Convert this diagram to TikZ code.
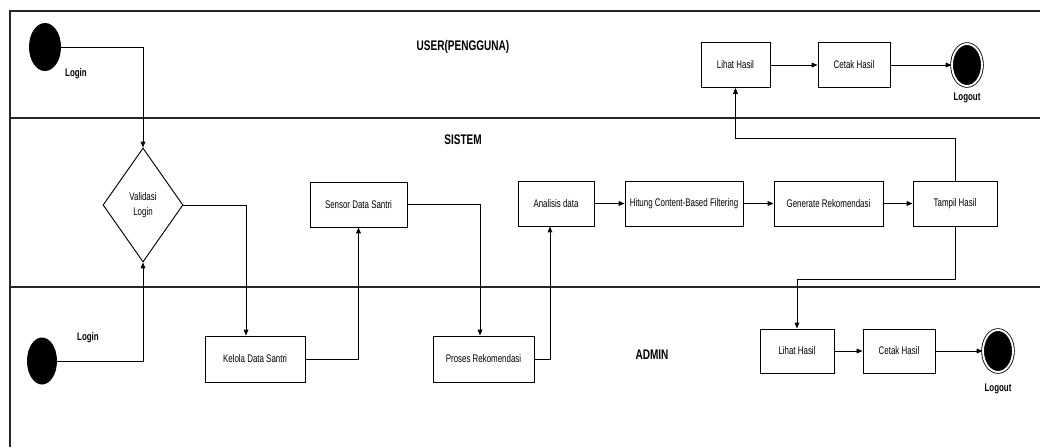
\documentclass[tikz,border=0pt]{standalone}
\usepackage{fontspec}
\setmainfont{Liberation Sans}[FakeStretch=0.72]
\usetikzlibrary{arrows.meta, calc, positioning, shapes.geometric}

\begin{document}
\begin{tikzpicture}[x=0.03cm, y=-0.03cm,
	lane/.style={line width=1.1pt, draw=black!85},
	act/.style={draw, line width=0.8pt, rectangle, inner sep=0pt, minimum height={45*0.03cm}, font=\fontsize{9.4}{11}\selectfont},
	cond/.style={draw, line width=0.8pt, diamond, inner sep=0pt, align=center, minimum width={80*0.03cm}, minimum height={114*0.03cm}, font=\fontsize{9.4}{13}\selectfont},
	startnode/.style={ellipse, fill=black, inner sep=0pt},
	endnode/.style={ellipse, fill=black, draw=black, double=white, double distance=1.6pt, line width=0.7pt, inner sep=0pt, minimum width={30*0.03cm}, minimum height={42*0.03cm}},
	title/.style={font=\bfseries\fontsize{11.9}{14}\selectfont},
	tag/.style={font=\bfseries\fontsize{9.4}{11}\selectfont},
	flow/.style={line width=0.8pt, -{Triangle[length=5pt, width=4pt]}}
]
	\useasboundingbox (0, 0) rectangle (1040, 447);
	
	% swimlanes
	\draw[lane] (10, 447) -- (10, 11) -- (1040, 11);
	\draw[lane] (10, 118) -- (1040, 118);
	\draw[lane] (10, 287) -- (1040, 287);
	
	\node[title] (userlane) at (463, 47) {USER(PENGGUNA)};
	\node[title] (sistemlane) at (463, 140) {SISTEM};
	\node[title] (adminlane) at (652, 355) {ADMIN};
	
	% user
	\node[startnode, minimum width={32*0.03cm}, minimum height={48*0.03cm}] (startU) at (45, 47) {};
	\node[tag] (loginU) at (76, 74) {Login};
	\node[act, minimum width={69*0.03cm}] (lihatU) at (735.5, 65) {Lihat Hasil};
	\node[act, minimum width={72*0.03cm}] (cetakU) at (854, 65) {Cetak Hasil};
	\node[endnode] (logoutU) at (967, 65) {};
	\node[tag] (logoutUtxt) at (967, 98) {Logout};
	
	% sistem
	\node[cond] (validasi) at (143, 205) {Validasi\\Login};
	\node[act, minimum width={97*0.03cm}] (sensor) at (358.5, 204.5) {Sensor Data Santri};
	\node[act, minimum width={76*0.03cm}] (analisis) at (556, 203.5) {Analisis data};
	\node[act, minimum width={118*0.03cm}] (hitung) at (684, 203.5) {Hitung Content-Based Filtering};
	\node[act, minimum width={109*0.03cm}] (generate) at (828.5, 203.5) {Generate Rekomendasi};
	\node[act, minimum width={84*0.03cm}] (tampil) at (955, 203.5) {Tampil Hasil};
	
	% admin
	\node[startnode, minimum width={30*0.03cm}, minimum height={47*0.03cm}] (startA) at (42, 361) {};
	\node[tag] (loginA) at (88, 338) {Login};
	\node[act, minimum width={100*0.03cm}, minimum height={46*0.03cm}] (kelola) at (255, 359) {Kelola Data Santri};
	\node[act, minimum width={101*0.03cm}, minimum height={46*0.03cm}] (proses) at (483.5, 359) {Proses Rekomendasi};
	\node[act, minimum width={74*0.03cm}, minimum height={44*0.03cm}] (lihatA) at (797, 351) {Lihat Hasil};
	\node[act, minimum width={72*0.03cm}, minimum height={44*0.03cm}] (cetakA) at (899, 351) {Cetak Hasil};
	\node[endnode] (logoutA) at (998, 351) {};
	\node[tag] (logoutAtxt) at (998, 389) {Logout};
	
	% alur
	\draw[flow] (startU.east) -| (validasi.north);
	\draw[flow] (startA.east) -| (validasi.south);
	\draw[flow] (validasi.east) -| ($(kelola.north) + (-9, 0)$);
	\draw[flow] (kelola.east) -| (sensor.south);
	\draw[flow] (sensor.east) -| ($(proses.north) + (-3.5, 0)$);
	\draw[flow] (proses.east) -| ($(analisis.south) + (-6, 0)$);
	\draw[flow] (analisis) -- (hitung);
	\draw[flow] (hitung) -- (generate);
	\draw[flow] (generate) -- (tampil);
	\draw[flow] (tampil.north) -- ++(0, -42) -| (lihatU.south);
	\draw[flow] (tampil.south) -- ++(0, 53) -| (lihatA.north);
	\draw[flow] (lihatU) -- (cetakU);
	\draw[flow] (cetakU) -- (logoutU);
	\draw[flow] (lihatA) -- (cetakA);
	\draw[flow] (cetakA) -- (logoutA);
\end{tikzpicture}
\end{document}
